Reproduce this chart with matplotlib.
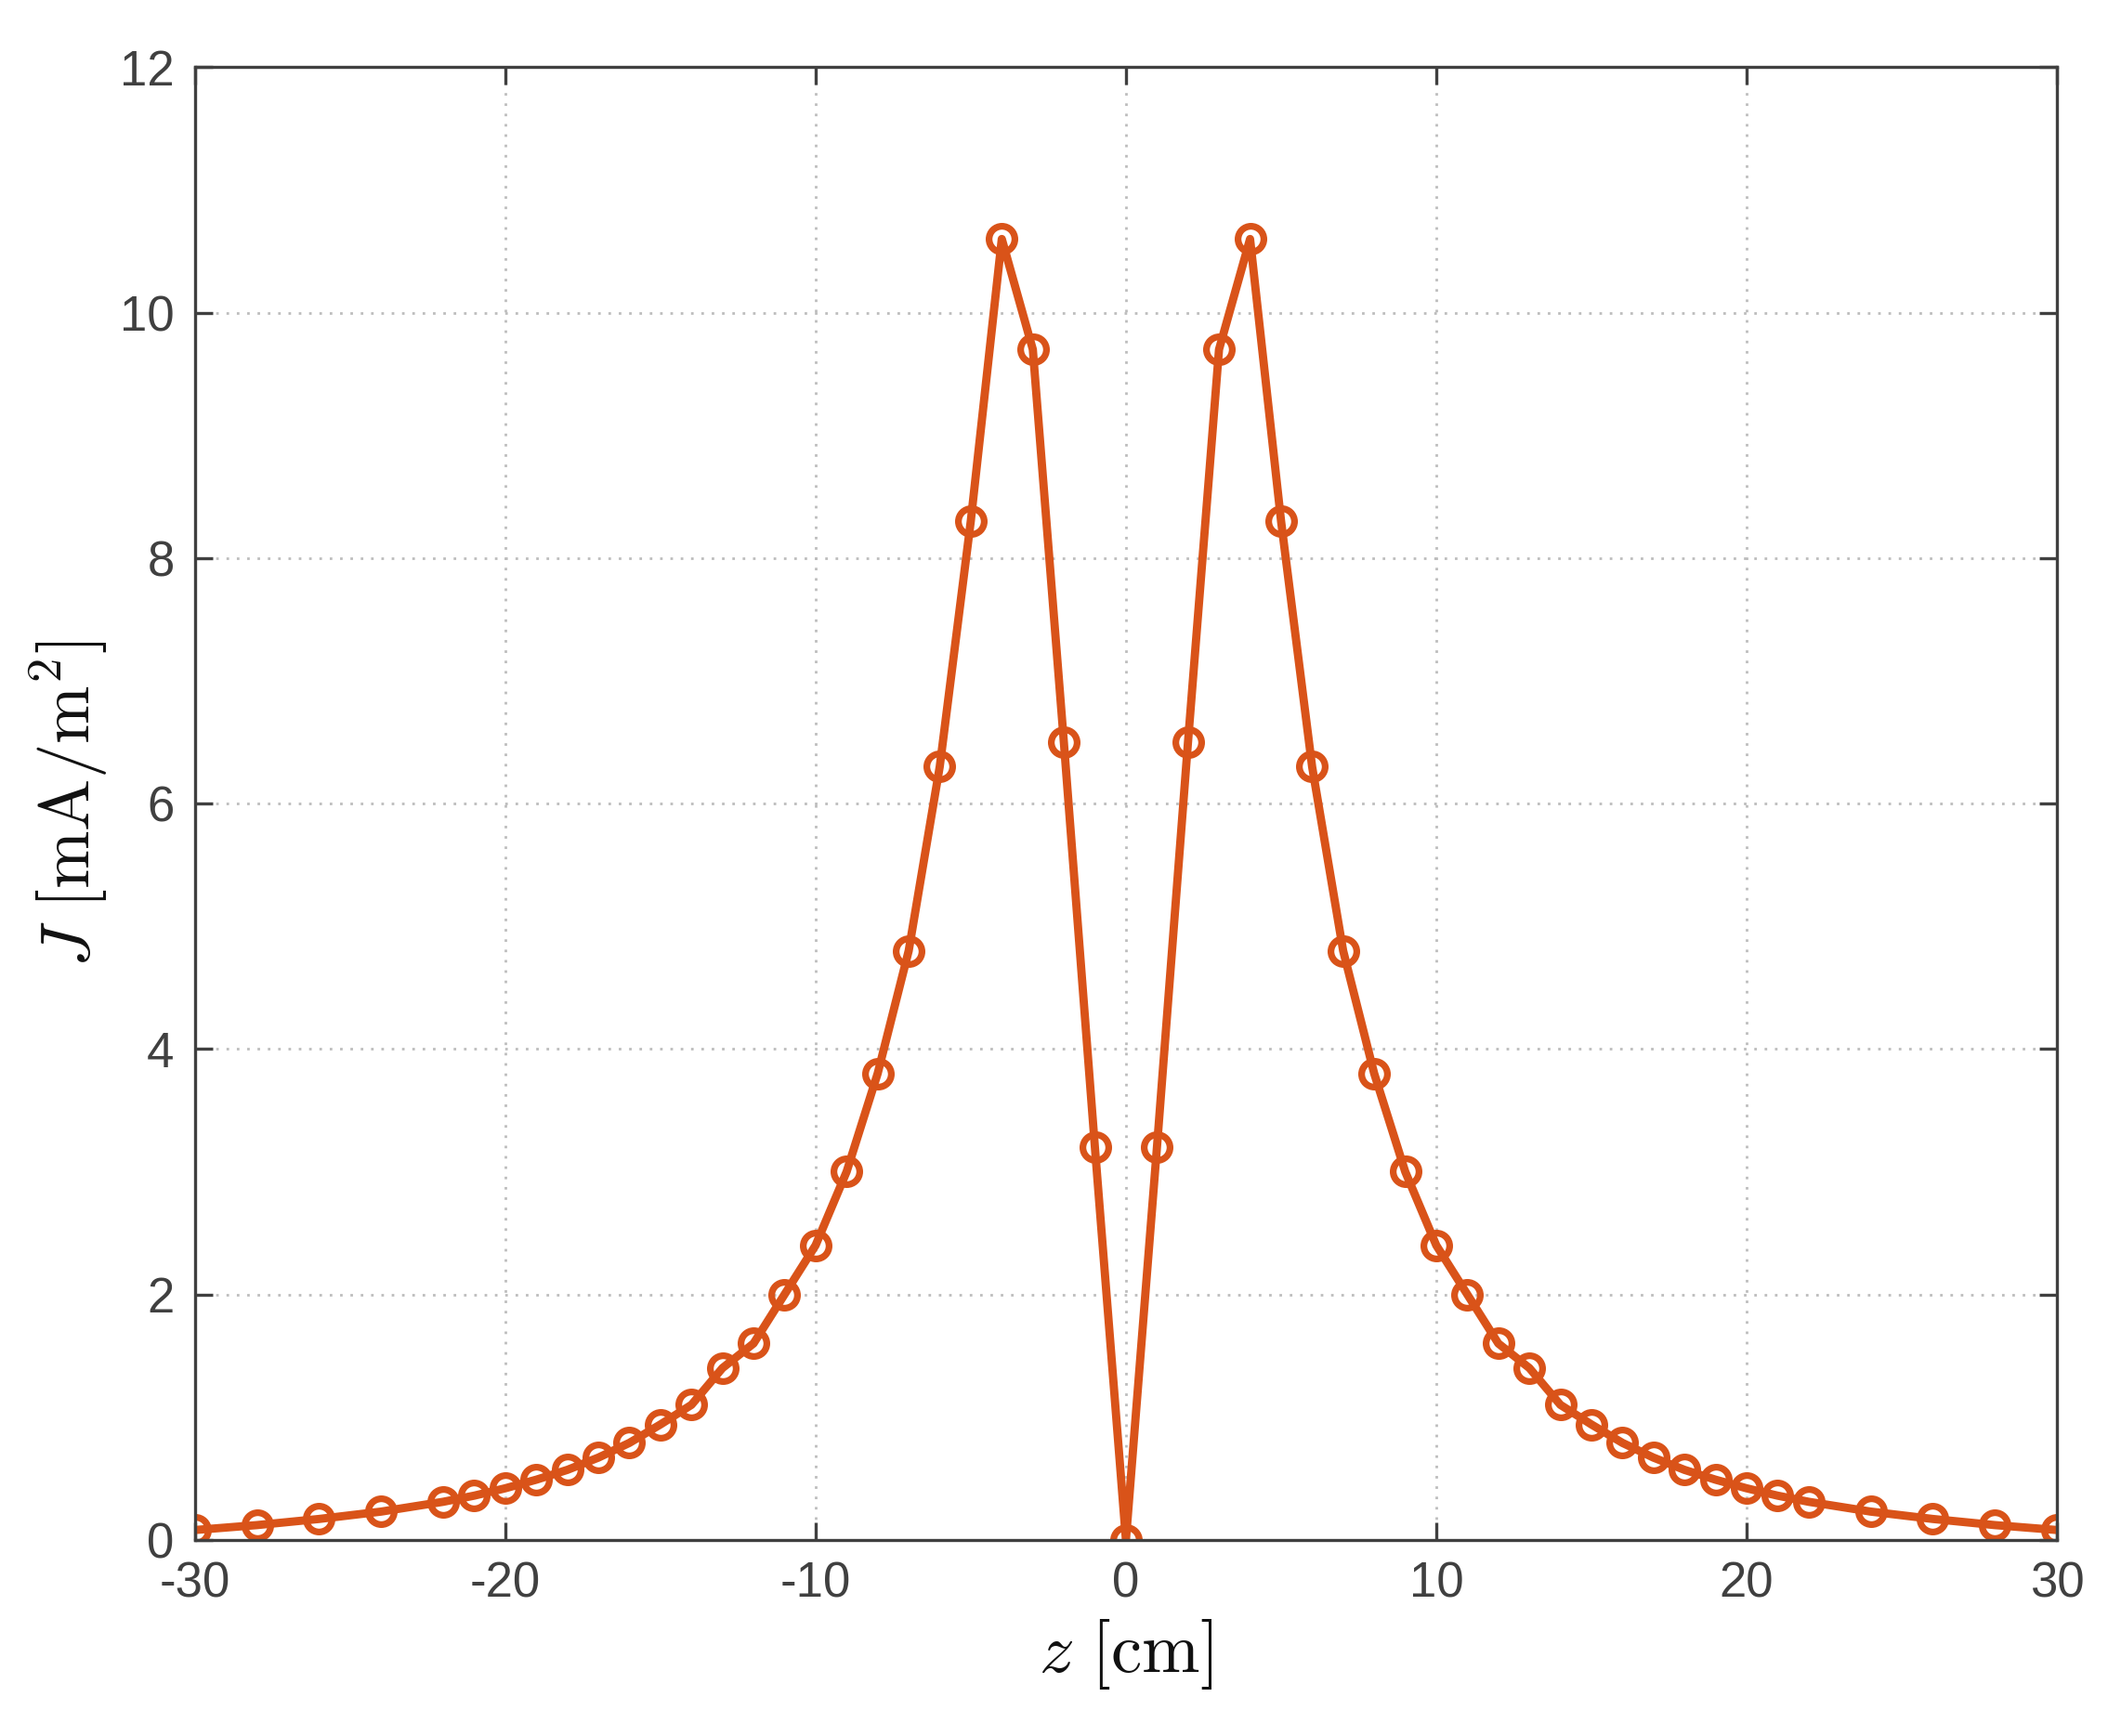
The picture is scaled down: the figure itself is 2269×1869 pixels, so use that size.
import numpy as np
import matplotlib.pyplot as plt

plt.rcParams['mathtext.fontset'] = 'cm'
plt.rcParams['font.family'] = ['Liberation Sans', 'DejaVu Sans']
plt.rcParams['axes.unicode_minus'] = False

z_left = [-30, -28, -26, -24, -22, -21, -20, -19, -18, -17, -16, -15, -14, -13,
          -12, -11, -10, -9, -8, -7, -6, -5, -4, -3, -2, -1]
j_left = [0.08, 0.12, 0.17, 0.23, 0.31, 0.36, 0.42, 0.49, 0.57, 0.67, 0.79, 0.94,
          1.1, 1.4, 1.6, 2.0, 2.4, 3.0, 3.8, 4.8, 6.3, 8.3, 10.6, 9.7, 6.5, 3.2]
z = np.array(z_left + [0] + [-v for v in z_left[::-1]])
J = np.array(j_left + [0.0] + j_left[::-1])

fig = plt.figure(figsize=(11.345, 9.345), dpi=200)
ax = fig.add_axes([145 / 1568, 1 - 1146 / 1292, (1530 - 145) / 1568, (1146 - 50) / 1292])

ax.plot(z, J, '-o', color='#D95319', lw=3.2, ms=10, mfc='none', mew=2.6)

ax.set_xlim(-30, 30)
ax.set_ylim(0, 12)
ax.set_xticks(np.arange(-30, 31, 10))
ax.set_yticks(np.arange(0, 13, 2))
ax.grid(True, linestyle=(0, (1, 3)), color='#bdbdbd', lw=1.0)
for s in ax.spines.values():
    s.set_color('#404040')
    s.set_linewidth(1.2)
ax.tick_params(direction='in', top=True, right=True, colors='#404040',
               labelsize=19, length=7, width=1.2, pad=8)
for lab in ax.get_xticklabels() + ax.get_yticklabels():
    lab.set_color('#404040')

ax.set_xlabel(r'$z\ [\mathrm{cm}]$', fontsize=27, color='#111111')
ax.set_ylabel(r'$J\ [\mathrm{mA/m^2}]$', fontsize=27, color='#111111')

fig.savefig('out.png', dpi=200, facecolor='white')
